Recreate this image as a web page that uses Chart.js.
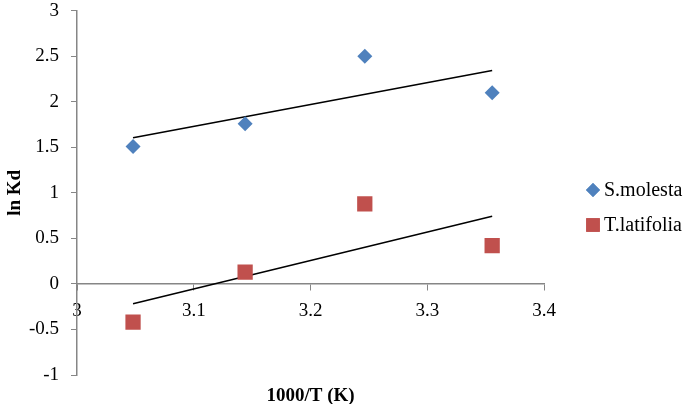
<!DOCTYPE html>
<html>
<head>
<meta charset="utf-8">
<script src="https://cdn.jsdelivr.net/npm/chart.js@4.4.0/dist/chart.umd.min.js"></script>
<style>
  html, body { margin: 0; padding: 0; background: #fff; }
</style>
</head>
<body>
<canvas id="chart" width="685" height="404"></canvas>
<script>
// 1000/T values and ln Kd for each plant
const invT = [3.048, 3.144, 3.2465, 3.3556]
const sMolesta = [1.51, 1.76, 2.50, 2.10]
const tLatifolia = [-0.42, 0.13, 0.88, 0.42]
const xTicks = [3, 3.1, 3.2, 3.3, 3.4]
const yTicks = [-1, -0.5, 0, 0.5, 1, 1.5, 2, 2.5, 3]

// least squares trendline, like the Excel one
function trend(xs, ys) {
  const n = xs.length
  const mx = xs.reduce((a, b) => a + b, 0) / n
  const my = ys.reduce((a, b) => a + b, 0) / n
  let sxy = 0, sxx = 0
  xs.forEach((x, i) => {
    sxy += (x - mx) * (ys[i] - my)
    sxx += (x - mx) * (x - mx)
  })
  const k = sxy / sxx
  const x0 = xs[0], x1 = xs[n - 1]
  return [{ x: x0, y: my + k * (x0 - mx) }, { x: x1, y: my + k * (x1 - mx) }]
}

const pts = (ys) => invT.map((x, i) => ({ x, y: ys[i] }))
const axisColor = '#868686'
const serif = '"Liberation Serif", "Times New Roman", serif'

// legend on the right, drawn by hand so it sits where Excel put it
const sideLegend = {
  id: 'sideLegend',
  afterDraw(chart) {
    const c = chart.ctx
    const rows = [
      { ds: chart.data.datasets[0], y: 190, r: 7 },
      { ds: chart.data.datasets[1], y: 225, r: 9.6 }
    ]
    c.save()
    c.font = '20px ' + serif
    c.textBaseline = 'middle'
    rows.forEach(({ ds, y, r }) => {
      c.fillStyle = ds.backgroundColor
      Chart.helpers.drawPoint(c, { pointStyle: ds.pointStyle, radius: r, borderWidth: 0 }, 593, y)
      c.fill()
      c.fillStyle = '#000'
      c.fillText(ds.label, 604, y + 1)
    })
    c.restore()
  }
}

const ctx = document.getElementById('chart').getContext('2d')
new Chart(ctx, {
  type: 'scatter',
  data: {
    datasets: [
      {
        label: 'S.molesta',
        data: pts(sMolesta),
        pointStyle: 'rectRot',
        pointRadius: 7.5,
        backgroundColor: '#4F81BD',
        borderColor: '#4F81BD',
        borderWidth: 0
      },
      {
        label: 'T.latifolia',
        data: pts(tLatifolia),
        pointStyle: 'rect',
        pointRadius: 10.8,
        backgroundColor: '#C0504D',
        borderColor: '#C0504D',
        borderWidth: 0
      },
      {
        label: 'trend1',
        data: trend(invT, sMolesta),
        showLine: true,
        pointRadius: 0,
        borderColor: '#000',
        borderWidth: 1.5
      },
      {
        label: 'trend2',
        data: trend(invT, tLatifolia),
        showLine: true,
        pointRadius: 0,
        borderColor: '#000',
        borderWidth: 1.5
      }
    ]
  },
  options: {
    responsive: false,
    animation: false,
    layout: { padding: { top: 10, bottom: 29, left: 0, right: 141 } },
    plugins: {
      tooltip: { enabled: false },
      legend: { display: false }
    },
    scales: {
      x: {
        type: 'linear',
        min: 3,
        max: 3.4,
        position: { y: 0 },
        afterBuildTicks: (s) => { s.ticks = xTicks.map((v) => ({ value: v })) },
        grid: { drawOnChartArea: false, tickLength: 6, color: axisColor },
        border: { color: axisColor, width: 1.5 },
        ticks: {
          color: '#000',
          padding: 10,
          maxRotation: 0,
          font: { family: serif, size: 19 },
          callback: (v) => String(v)
        },
        title: {
          display: true,
          text: '1000/T (K)',
          color: '#000',
          font: { family: serif, size: 19, weight: 'bold' },
          padding: { top: 52, bottom: 0 }
        }
      },
      y: {
        type: 'linear',
        min: -1,
        max: 3,
        position: 'left',
        afterBuildTicks: (s) => { s.ticks = yTicks.map((v) => ({ value: v })) },
        afterFit: (s) => {
          s.width = 77
          s.paddingTop = 0
          s.paddingBottom = 0
        },
        grid: { drawOnChartArea: false, tickLength: 6, color: axisColor },
        border: { color: axisColor, width: 1.5 },
        ticks: {
          color: '#000',
          padding: 12,
          font: { family: serif, size: 19 },
          callback: (v) => String(v)
        },
        title: {
          display: true,
          text: 'ln Kd',
          color: '#000',
          font: { family: serif, size: 19, weight: 'bold' },
          padding: { top: 4, bottom: 0 }
        }
      }
    }
  },
  plugins: [sideLegend]
})
</script>
</body>
</html>
